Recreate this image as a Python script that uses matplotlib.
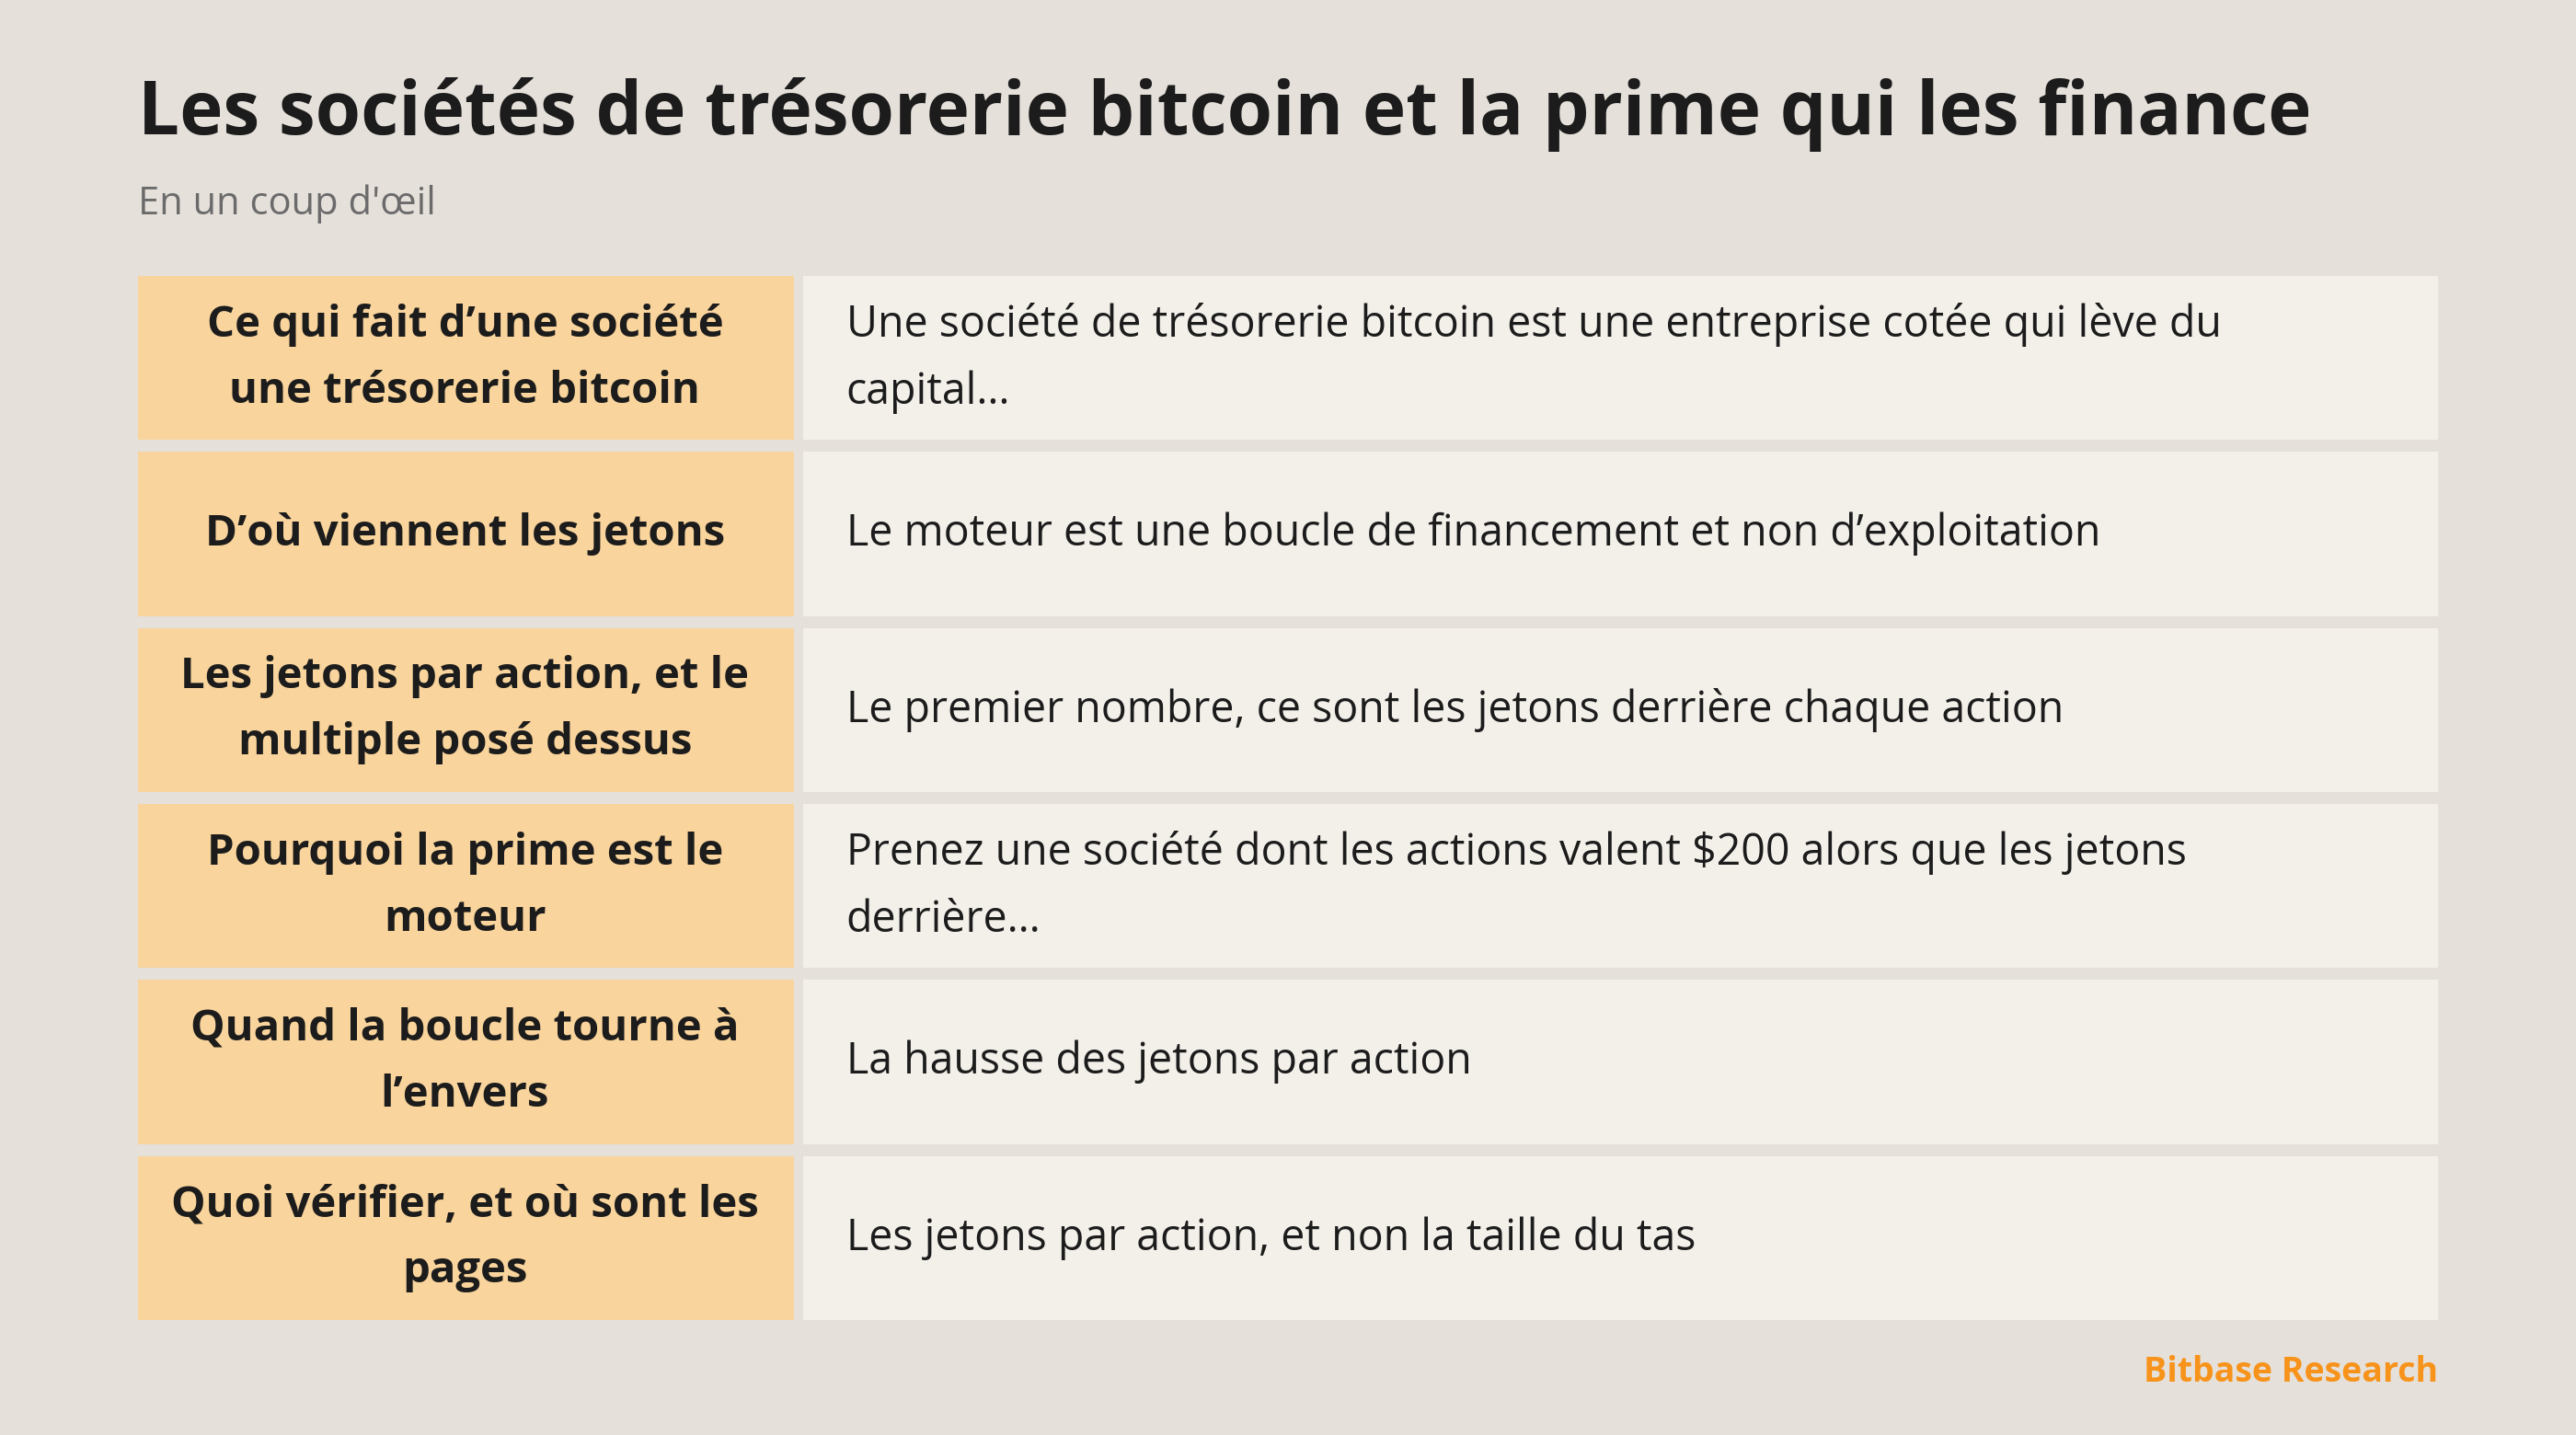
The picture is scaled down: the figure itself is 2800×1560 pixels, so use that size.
import matplotlib
matplotlib.use('Agg')
import matplotlib.pyplot as plt
from matplotlib.patches import Rectangle

TITLE = 'Les sociétés de trésorerie bitcoin et la prime qui les finance'
SUBTITLE = "En un coup d'œil"
ROW_LABELS = [
    'Ce qui fait d’une société\nune trésorerie bitcoin',
    'D’où viennent les jetons',
    'Les jetons par action, et le\nmultiple posé dessus',
    'Pourquoi la prime est le\nmoteur',
    'Quand la boucle tourne à\nl’envers',
    'Quoi vérifier, et où sont les\npages',
]
ROW_TEXTS = [
    'Une société de trésorerie bitcoin est une entreprise cotée qui lève du\ncapital…',
    'Le moteur est une boucle de financement et non d’exploitation',
    'Le premier nombre, ce sont les jetons derrière chaque action',
    'Prenez une société dont les actions valent $200 alors que les jetons\nderrière…',
    'La hausse des jetons par action',
    'Les jetons par action, et non la taille du tas',
]
FOOTER = 'Bitbase Research'

BG = '#E5E0DA'
LEFT_BG = '#F9D49C'
RIGHT_BG = '#F3F0EA'
ORANGE = '#F7931A'
FONT = ['Open Sans', 'DejaVu Sans']

fig = plt.figure(figsize=(28, 15.6), dpi=100, facecolor=BG)
ax = fig.add_axes([0, 0, 1, 1])
ax.set_xlim(0, 1568)
ax.set_ylim(874, 0)
ax.axis('off')

ax.text(84, 70, TITLE, fontsize=57.5, fontweight='bold', color='#1c1c1c',
        va='center', ha='left', family=FONT)
ax.text(84, 124, SUBTITLE, fontsize=30, color='#6b6b6b',
        va='center', ha='left', family=FONT)

top, row_h, gap = 168, 100, 7.2
for i, (lab, txt) in enumerate(zip(ROW_LABELS, ROW_TEXTS)):
    y0 = top + i * (row_h + gap)
    ax.add_patch(Rectangle((84, y0), 399, row_h, color=LEFT_BG, lw=0))
    ax.add_patch(Rectangle((489, y0), 995, row_h, color=RIGHT_BG, lw=0))
    yc = y0 + row_h / 2
    ax.text(283, yc, lab, fontsize=34, fontweight='bold', color='#1c1c1c',
            ha='center', va='center', linespacing=1.7, family=FONT)
    ax.text(515, yc, txt, fontsize=33.5, color='#1c1c1c',
            ha='left', va='center', linespacing=1.7, family=FONT)

ax.text(1484, 836, FOOTER, fontsize=27, fontweight='bold', color=ORANGE,
        ha='right', va='center', family=FONT)

fig.savefig('out.png', dpi=100, facecolor=BG)
